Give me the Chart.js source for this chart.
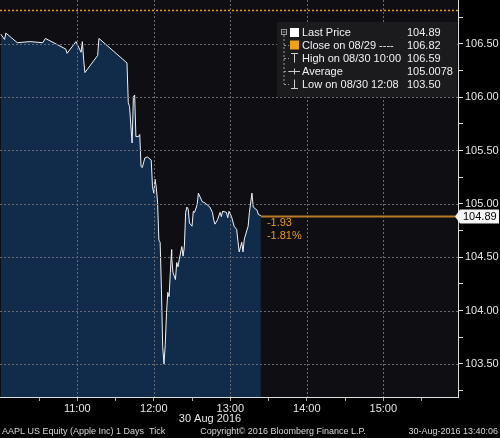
<!DOCTYPE html>
<html>
<head>
<meta charset="utf-8">
<script src="https://cdn.jsdelivr.net/npm/chart.js@4.4.0/dist/chart.umd.min.js"></script>
<style>
  html, body { margin: 0; padding: 0; background: #000; }
</style>
</head>
<body>
<canvas id="priceChart" width="500" height="438"></canvas>
<script>
// AAPL intraday ticks, 30 Aug 2016
const times = [
  '10:00', '10:03', '10:04', '10:13', '10:23', '10:33', '10:35', '10:51', '10:52', '10:59',
  '11:03', '11:04', '11:05', '11:06', '11:16', '11:17', '11:39', '11:40', '11:41', '11:43',
  '11:44', '11:45', '11:46', '11:48', '11:49', '11:50', '11:51', '11:53', '11:55', '11:58',
  '11:59', '12:00', '12:01', '12:02', '12:03', '12:04', '12:05', '12:06', '12:07', '12:08',
  '12:09', '12:10', '12:11', '12:12', '12:13', '12:14', '12:14', '12:15', '12:17', '12:18',
  '12:19', '12:20', '12:22', '12:23', '12:24', '12:25', '12:26', '12:27', '12:28', '12:30',
  '12:31', '12:32', '12:34', '12:35', '12:38', '12:40', '12:44', '12:46', '12:47', '12:48',
  '12:50', '12:52', '12:53', '12:54', '12:57', '12:58', '12:59', '13:01', '13:03', '13:05',
  '13:06', '13:07', '13:09', '13:10', '13:11', '13:14', '13:15', '13:17', '13:18', '13:21',
  '13:22', '13:24'
];
const prices = [
  106.59, 106.54, 106.60, 106.51, 106.52, 106.51, 106.55, 106.45, 106.41, 106.52,
  106.42, 106.52, 106.35, 106.23, 106.39, 106.55, 106.32, 105.95, 105.91, 105.57,
  106.00, 106.02, 105.63, 105.63, 105.65, 105.35, 105.34, 105.43, 105.44, 105.41,
  105.16, 105.10, 105.23, 105.15, 105.01, 104.66, 104.64, 104.20, 103.66, 103.50,
  103.68, 103.98, 104.17, 104.13, 104.36, 104.57, 104.51, 104.36, 104.29, 104.45,
  104.41, 104.48, 104.60, 104.51, 104.60, 104.92, 104.97, 104.95, 104.82, 104.79,
  104.93, 104.92, 104.99, 105.10, 105.02, 105.01, 104.97, 104.92, 104.85, 104.81,
  104.85, 104.92, 104.88, 104.93, 104.92, 104.87, 104.93, 104.88, 104.79, 104.76,
  104.65, 104.55, 104.64, 104.55, 104.67, 104.79, 104.92, 105.10, 104.97, 104.94,
  104.90, 104.89
];

// axis ticks (half hours / quarter points are unlabeled minor ticks)
const xTickTimes = ['10:30', '11:00', '11:30', '12:00', '12:30', '13:00', '13:30', '14:00', '14:30', '15:00', '15:30'];
const yTickValues = [103.25, 103.50, 103.75, 104.00, 104.25, 104.50, 104.75, 105.00, 105.25, 105.50, 105.75, 106.00, 106.25, 106.50, 106.75];

const closePrev = 106.82;
const lastPrice = 104.89;
const changeLabels = ['-1.93', '-1.81%'];
const legendLabels = ['Last Price', 'Close on 08/29 ----', 'High on 08/30 10:00', 'Average', 'Low on 08/30 12:08'];
const legendValues = ['104.89', '106.82', '106.59', '105.0078', '103.50'];
const dateLabel = '30 Aug 2016';
const footerLabels = ['AAPL US Equity (Apple Inc) 1 Days  Tick', 'Copyright\u00a9 2016 Bloomberg Finance L.P.', '30-Aug-2016 13:40:06'];

const FONT = '"Liberation Sans", Arial, sans-serif';
const ORANGE = '#e79a23';
const GRID = '#6a6a72';

function toMinutes(t) {
  const [h, m] = t.split(':');
  return +h * 60 + +m;
}
const points = times.map((t, i) => ({ x: toMinutes(t), y: prices[i] }));

const isHalf = v => Math.abs(v * 2 - Math.round(v * 2)) < 1e-6;
const isHour = v => v % 60 === 0;

const bloombergDecor = {
  id: 'bloombergDecor',
  beforeDraw(chart) {
    const { ctx, chartArea: a } = chart;
    ctx.save();
    ctx.fillStyle = '#000';
    ctx.fillRect(0, 0, chart.width, chart.height);
    ctx.fillStyle = '#0f0e12';
    ctx.fillRect(a.left, a.top, a.right - a.left, a.bottom - a.top);
    ctx.restore();
  },
  afterDraw(chart) {
    const { ctx, chartArea: a } = chart;
    const xs = chart.scales.x, ys = chart.scales.y;
    ctx.save();

    // dotted grid at the major ticks, over the filled area
    ctx.strokeStyle = GRID;
    ctx.lineWidth = 1;
    ctx.setLineDash([2, 2]);
    ctx.beginPath();
    xTickTimes.map(toMinutes).filter(isHour).forEach(v => {
      const px = Math.round(xs.getPixelForValue(v)) + 0.5;
      ctx.moveTo(px, a.top);
      ctx.lineTo(px, a.bottom);
    });
    yTickValues.filter(isHalf).forEach(v => {
      const py = Math.round(ys.getPixelForValue(v)) + 0.5;
      ctx.moveTo(a.left, py);
      ctx.lineTo(a.right, py);
    });
    ctx.stroke();

    // previous close (dotted orange)
    const yc = Math.round(ys.getPixelForValue(closePrev)) + 0.5;
    ctx.strokeStyle = ORANGE;
    ctx.lineWidth = 1.5;
    ctx.beginPath();
    ctx.moveTo(a.left, yc);
    ctx.lineTo(a.right, yc);
    ctx.stroke();
    ctx.setLineDash([]);

    // last price line from last tick to the axis
    const last = points[points.length - 1];
    const lx = xs.getPixelForValue(last.x);
    const yl = Math.round(ys.getPixelForValue(lastPrice)) + 0.5;
    ctx.strokeStyle = '#b87a26';
    ctx.lineWidth = 2;
    ctx.beginPath();
    ctx.moveTo(lx, yl);
    ctx.lineTo(a.right, yl);
    ctx.stroke();

    ctx.font = '11px ' + FONT;
    ctx.textBaseline = 'middle';
    ctx.fillStyle = ORANGE;
    ctx.fillText(changeLabels[0], lx + 6, yl + 6);
    ctx.fillText(changeLabels[1], lx + 6, yl + 19);

    // last price tag on the axis
    ctx.fillStyle = '#f4f4f4';
    ctx.beginPath();
    ctx.moveTo(455, yl);
    ctx.lineTo(460, yl - 7);
    ctx.lineTo(499, yl - 7);
    ctx.lineTo(499, yl + 7);
    ctx.lineTo(460, yl + 7);
    ctx.closePath();
    ctx.fill();
    ctx.fillStyle = '#000';
    ctx.fillText(lastPrice.toFixed(2), 463, yl + 0.5);

    // legend box
    ctx.fillStyle = '#1b1b1e';
    ctx.fillRect(277, 22, 180, 75);
    const rowY = [32.5, 45, 58, 71, 84];
    ctx.strokeStyle = '#9a9a9a';
    ctx.lineWidth = 1;
    ctx.strokeRect(281.5, 29.5, 5, 5);
    ctx.beginPath();
    ctx.moveTo(282.5, 32); ctx.lineTo(285.5, 32);
    ctx.stroke();
    ctx.setLineDash([2, 2]);
    ctx.beginPath();
    ctx.moveTo(284, 35); ctx.lineTo(284, rowY[4]);
    for (let i = 1; i < rowY.length; i++) {
      ctx.moveTo(284, rowY[i] + 0.5); ctx.lineTo(289, rowY[i] + 0.5);
    }
    ctx.stroke();
    ctx.setLineDash([]);
    ctx.fillStyle = '#ffffff';
    ctx.fillRect(290, rowY[0] - 4.5, 9, 9);
    ctx.fillStyle = '#f2a01a';
    ctx.fillRect(290, rowY[1] - 4.5, 9, 9);
    ctx.strokeStyle = '#cccccc';
    ctx.beginPath();
    ctx.moveTo(291, rowY[2] - 4.5); ctx.lineTo(298, rowY[2] - 4.5);
    ctx.moveTo(294.5, rowY[2] - 4.5); ctx.lineTo(294.5, rowY[2] + 4.5);
    ctx.moveTo(289, rowY[3] + 0.5); ctx.lineTo(300, rowY[3] + 0.5);
    ctx.moveTo(294.5, rowY[3] - 2.5); ctx.lineTo(294.5, rowY[3] + 3.5);
    ctx.moveTo(294.5, rowY[4] - 4.5); ctx.lineTo(294.5, rowY[4] + 4.5);
    ctx.moveTo(291, rowY[4] + 4.5); ctx.lineTo(298, rowY[4] + 4.5);
    ctx.stroke();

    ctx.fillStyle = '#f0f0f0';
    ctx.font = '11px ' + FONT;
    legendLabels.forEach((t, i) => ctx.fillText(t, 302, rowY[i] + 0.5));
    legendValues.forEach((t, i) => ctx.fillText(t, 407, rowY[i] + 0.5));

    // date under axis and footer
    ctx.fillStyle = '#e6e6e6';
    ctx.textAlign = 'center';
    ctx.fillText(dateLabel, 210, 419);
    ctx.font = '9px ' + FONT;
    ctx.fillStyle = '#d8d8d8';
    ctx.textAlign = 'left';
    ctx.fillText(footerLabels[0], 2, 432);
    ctx.textAlign = 'center';
    ctx.fillText(footerLabels[1], 283, 432);
    ctx.textAlign = 'right';
    ctx.fillText(footerLabels[2], 498, 432);

    ctx.restore();
  }
};

new Chart(document.getElementById('priceChart').getContext('2d'), {
  type: 'line',
  data: {
    datasets: [{
      data: points,
      borderColor: '#eef2f7',
      borderWidth: 1,
      backgroundColor: '#112b4a',
      fill: 'start',
      pointRadius: 0,
      tension: 0
    }]
  },
  options: {
    responsive: false,
    animation: false,
    layout: { padding: 0 },
    plugins: {
      legend: { display: false },
      tooltip: { enabled: false }
    },
    scales: {
      x: {
        type: 'linear',
        min: 599.4,
        max: 958.6,
        afterBuildTicks: s => { s.ticks = xTickTimes.map(t => ({ value: toMinutes(t) })); },
        afterFit: s => { s.height = 41; s.paddingLeft = 0; s.paddingRight = 0; },
        ticks: {
          autoSkip: false,
          maxRotation: 0,
          padding: 1,
          color: '#e6e6e6',
          font: { family: FONT, size: 11 },
          callback: v => isHour(v) ? (v / 60) + ':00' : ''
        },
        grid: {
          drawOnChartArea: false,
          tickColor: '#aaaaaa',
          tickLength: 4
        },
        border: { color: '#dddddd', z: 1 }
      },
      y: {
        position: 'right',
        min: 103.19,
        max: 106.91,
        afterBuildTicks: s => { s.ticks = yTickValues.map(v => ({ value: v })); },
        afterFit: s => { s.width = 42; s.paddingTop = 0; s.paddingBottom = 0; },
        ticks: {
          autoSkip: false,
          padding: 2,
          color: '#e6e6e6',
          font: { family: FONT, size: 11 },
          callback: v => isHalf(v) ? v.toFixed(2) : ''
        },
        grid: {
          drawOnChartArea: false,
          tickColor: '#dddddd',
          tickLength: 5
        },
        border: { color: '#dddddd', z: 1 }
      }
    }
  },
  plugins: [bloombergDecor]
});
</script>
</body>
</html>
